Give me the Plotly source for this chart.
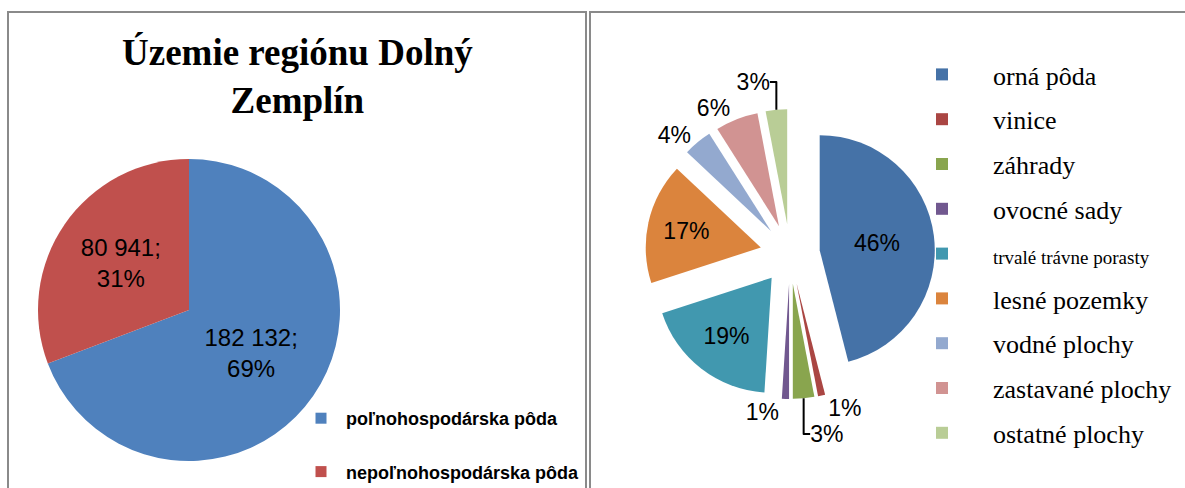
import plotly.graph_objects as go

W, H = 1185, 488

# ---- data ----
title_text = "Územie regiónu Dolný<br>Zemplín"
left_labels = ["poľnohospodárska pôda", "nepoľnohospodárska pôda"]
left_values = [182132, 80941]
left_colors = ["#4F81BD", "#C0504D"]

right_labels = ["orná pôda", "vinice", "záhrady", "ovocné sady", "trvalé trávne porasty",
                "lesné pozemky", "vodné plochy", "zastavané plochy", "ostatné plochy"]
right_values = [46, 1, 3, 1, 19, 17, 4, 6, 3]
right_colors = ["#4572A7", "#AA4643", "#89A54E", "#71588F", "#4198AF",
                "#DB843D", "#93A9CF", "#D19392", "#B9CD96"]
right_textpos = ["inside", "outside", "outside", "outside", "inside",
                 "inside", "outside", "outside", "outside"]


def px(x):
    return x / W


def py(y):
    return 1 - y / H


fig = go.Figure()

# left pie
fig.add_trace(go.Pie(
    labels=left_labels, values=left_values, marker=dict(colors=left_colors),
    sort=False, direction="clockwise", rotation=0,
    texttemplate="%{value:,.0f};<br>%{percent:.0%}",
    textposition="inside", insidetextorientation="horizontal",
    textfont=dict(family="Liberation Sans", size=24, color="black"),
    domain=dict(x=[px(38), px(340)], y=[py(461), py(159)]),
    showlegend=False, hoverinfo="label+value+percent",
))

# right pie (exploded)
fig.add_trace(go.Pie(
    labels=right_labels, values=right_values, marker=dict(colors=right_colors),
    sort=False, direction="clockwise", rotation=0, pull=0.26,
    texttemplate="%{percent:.0%}", textposition=right_textpos,
    insidetextorientation="horizontal",
    textfont=dict(family="Liberation Sans", size=23, color="black"),
    outsidetextfont=dict(family="Liberation Sans", size=23, color="black"),
    domain=dict(x=[px(645), px(935)], y=[py(399), py(109)]),
    showlegend=False, hoverinfo="label+percent",
))

# legend entries (one per category)
for lab, col in zip(left_labels, left_colors):
    fig.add_trace(go.Scatter(
        x=[None], y=[None], mode="markers", name=lab, legend="legend",
        marker=dict(symbol="square", size=11, color=col), legendgroup=lab,
    ))
for lab, col in zip(right_labels, right_colors):
    name = lab
    if lab == "trvalé trávne porasty":
        name = '<span style="font-size:19px">' + lab + '</span>'
    fig.add_trace(go.Scatter(
        x=[None], y=[None], mode="markers", name=name, legend="legend2",
        marker=dict(symbol="square", size=12, color=col), legendgroup=lab,
    ))

border = dict(color="#8a8a8a", width=2)
fig.update_layout(
    width=W, height=H, margin=dict(l=0, r=0, t=0, b=0, autoexpand=False),
    paper_bgcolor="white", plot_bgcolor="white",
    separators=". ",
    xaxis=dict(visible=False), yaxis=dict(visible=False),
    shapes=[
        dict(type="rect", xref="paper", yref="paper", x0=px(8), x1=px(586),
             y0=-0.2, y1=py(12), line=border, layer="below"),
        dict(type="rect", xref="paper", yref="paper", x0=px(590), x1=1.2,
             y0=-0.2, y1=py(12), line=border, layer="below"),
    ],
    annotations=[dict(
        text=title_text, x=px(297), y=py(76), xref="paper", yref="paper",
        showarrow=False, xanchor="center", yanchor="middle",
        font=dict(family="Liberation Serif", size=37, color="black", weight="bold"),
    )],
    legend=dict(
        x=px(296), y=py(400), xanchor="left", yanchor="top",
        font=dict(family="Liberation Sans", size=18, color="black", weight="bold"),
        itemwidth=40, tracegroupgap=27, bgcolor="rgba(0,0,0,0)",
    ),
    legend2=dict(
        x=px(891), y=py(51), xanchor="left", yanchor="top",
        font=dict(family="Liberation Serif", size=26, color="black"),
        itemwidth=92, tracegroupgap=8, bgcolor="rgba(0,0,0,0)",
    ),
)

fig.write_html("out.html", config={"displayModeBar": False},
               post_script="document.body.style.margin='0';")
